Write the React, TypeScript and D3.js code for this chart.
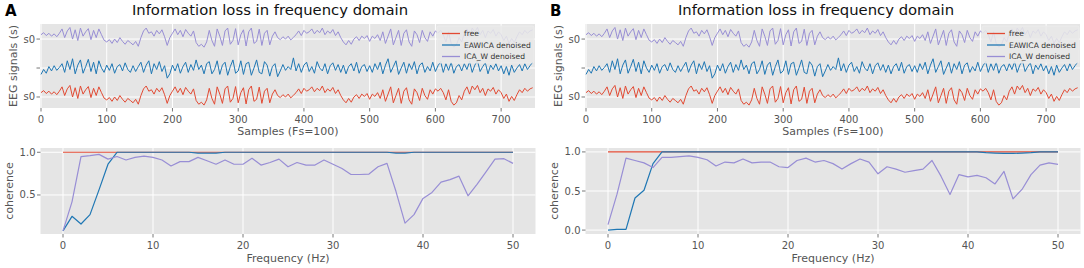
import React from "react";
import * as d3 from "d3";

// ---------- DATA ----------
const SAMPLE_STEP = 4; // samples between stored EEG points
const panelLabels = ["A", "B"];
const titleText = "Information loss in frequency domain";
const seriesNames = ["free", "EAWICA denoised", "ICA_W denoised"];
const seriesColors = ["#E24A33", "#1f77b4", "#988ED5"];
const sampleTicks = [0, 100, 200, 300, 400, 500, 600, 700];
const freqTicks = [0, 10, 20, 30, 40, 50];
const eegTickValues = [0, 100, 200];
const eegTickLabels = ["s0", "", "s0"];
const channelOffsets = [0, 100, 200];

// free (clean) EEG, relative to its channel baseline
const freeSignal = [
  15, 22, 12, 20, 10, 18, 8, 20,
  35, 5, 28, 40, 0, 32, -5, 38, 10, 25, 36, -2, 30, 5, 35, 15, -4,
  -10, -2, -15, 0, -12, 5, -8, -18, -5, -12, -20, -8, -25,
  5, 28, 38, 20,
  25, 10, 30, 18, 32, 8,
  -22, 5, 20,
  35, 15, 30, 8, 33, 20, 10, 28,
  -12, -25, -18, -28, -10,
  30, -5, -25, 35, 10, -22, 28, 38, -18, -5, 36, -20, 15, 32, -24, 25, 38, -15, -8, 34, -22, 20, 30, -20, 10, 25,
  5, -2, 8, 0, 10, -3, 6,
  15, 28, 12, 30, 20, 25,
  35, 18, 30, 22, 38, 15, 28, 20, 33, 12, 25,
  5, -10, -20, -5, -18, 0,
  8, -5, 10, 2, 12, -8,
  10, 2, 15, -5,
  25, -15, 10, 35, -20, 5, 30, -22, 20, 32, -10, -25, 28, 15, -12, 30, 5, -8, 25, 10,
  28, 20, 30, 15, -10, 25, -15,
  -28, -20, 5, -10,
  20, 35, 10, 38, 25, 40, 15, 30, 5, 28, 20, 33, 10, 25, 15,
  -5, 10, -15, 2, -12, 8,
  25, 15, 30, 20, 28, 32,
];

// EAWICA denoised EEG
const eawicaSignal = [
  -22, -5, -18, 5, -10, 8, -8, 2,
  15, -15, 25, -5, 32, -20, 10, 28, -18, 5, 30, -12, 20, -20, 25, 0, -15,
  10, -8, 15, -18, 5, 12, -10, 18, -5, -15, 8, -12, 5,
  20, -15, 10, 25, -20, 15, -5, 22, -12, 8,
  -35, -20, 10,
  -10, 15, -18, 5, 20, -15, 12, -8, 28, -5, 10, -20, 15,
  22, -20, -5, 25, -22, 10, 20, -25, 5, 28, -18, -10, 25, -22, 15, 20, -25, 0, 28, -15, -20, 22, 10, -28, 5, 15,
  -30, -10, 12, -8, 5, -5, 35,
  -10, 15, -15, 10, 20, -12, 5, -18, 22, 0, -10, 15, -20, 8, 18, -8, 12,
  -15, 10, -20, 5, 15, -10, 20, -18, 5, 12, -12, 8,
  -15, 15, -5, 20, -20, 10, 32, -15, 5, 25, -22, 0, 20, -18, 15, -5, 22, -20, 10, 18, -15, 5, -10, 20,
  -12, 8, 22, -15, 15, -8, 20, -18, 5, 12, -10,
  15, -5, 22, -15, 10, 25, -12, 5, 18, -20, 10, -5, 15, -10, 8,
  -20, 5, -25, 10, -15, 0,
  12, -10, 15, -5, 8, 20,
];

// ICA_W denoised trace is visually identical to the free trace
const icaSignal = freeSignal;

// coherence, frequencies 0..50 Hz
const freqs = [
  0, 1, 2, 3, 4, 5, 6, 7, 8, 9, 10, 11, 12, 13, 14, 15, 16, 17, 18, 19, 20, 21, 22, 23, 24, 25,
  26, 27, 28, 29, 30, 31, 32, 33, 34, 35, 36, 37, 38, 39, 40, 41, 42, 43, 44, 45, 46, 47, 48, 49, 50,
];
const cohFreeA = [
  1, 1, 1, 1, 1, 1, 1, 1, 1, 1, 1, 1, 1, 1, 1, 1, 1, 1, 1, 1, 1, 1, 1, 1, 1, 1,
  1, 1, 1, 1, 1, 1, 1, 1, 1, 1, 1, 1, 1, 1, 1, 1, 1, 1, 1, 1, 1, 1, 1, 1, 1,
];
const cohEawicaA = [
  0.08, 0.25, 0.16, 0.27, 0.56, 0.86, 1.0, 1, 1, 1, 1, 1, 1, 1, 1, 0.99, 0.99, 0.99, 1, 1, 1, 1, 1, 1, 1, 1,
  1, 1, 1, 1, 1, 1, 1, 1, 1, 1, 1, 0.99, 0.99, 1, 1, 1, 1, 1, 1, 1, 1, 1, 1, 1, 1,
];
const cohIcaA = [
  0.08, 0.42, 0.95, 0.96, 0.975, 0.92, 0.95, 0.91, 0.94, 0.955, 0.94, 0.91, 0.84, 0.89, 0.89, 0.94, 0.9, 0.86,
  0.91, 0.86, 0.86, 0.93, 0.85, 0.88, 0.92, 0.83, 0.88, 0.85, 0.85, 0.91, 0.86, 0.81, 0.74, 0.74, 0.745, 0.83,
  0.87, 0.54, 0.17, 0.27, 0.46, 0.53, 0.65, 0.68, 0.72, 0.49, 0.625, 0.77, 0.92, 0.925, 0.87,
];
const cohFreeB = [
  1, 1, 1, 1, 1, 1, 1, 1, 1, 1, 1, 1, 1, 1, 1, 1, 1, 1, 1, 1, 1, 1, 1, 1, 1, 1,
  1, 1, 1, 1, 1, 1, 1, 1, 1, 1, 1, 1, 1, 1, 1, 1, 1, 1, 1, 1, 1, 1, 1, 1, 1,
];
const cohEawicaB = [
  0.0, 0.01, 0.01, 0.41, 0.51, 0.85, 1.0, 1, 1, 1, 1, 1, 1, 1, 1, 1, 1, 1, 1, 1, 1, 1, 1, 1, 1, 1,
  1, 1, 1, 1, 1, 1, 1, 1, 1, 1, 1, 1, 1, 1, 1, 1, 0.99, 0.985, 0.98, 0.98, 0.985, 0.99, 1, 1, 1,
];
const cohIcaB = [
  0.07, 0.46, 0.92, 0.89, 0.86, 0.8, 0.93, 0.93, 0.94, 0.95, 0.93, 0.9, 0.82, 0.87, 0.86, 0.91, 0.86, 0.87,
  0.87, 0.81, 0.8, 0.89, 0.92, 0.87, 0.89, 0.85, 0.78, 0.85, 0.91, 0.87, 0.72, 0.81, 0.78, 0.74, 0.76, 0.78,
  0.89, 0.69, 0.455, 0.71, 0.68, 0.7, 0.67, 0.59, 0.75, 0.4, 0.52, 0.71, 0.83, 0.86, 0.84,
];
const cohTicksA = [0.5, 1.0];
const cohTicksB = [0.0, 0.5, 1.0];

// ---------- STYLE ----------
const FONT = "DejaVu Sans";
const BG = "#E5E5E5";
const TXT = "#555555";

type PanelProps = {
  ox: number;
  label: string;
  coh: number[][];
  cohDomain: [number, number];
  cohTicks: number[];
  titleX: number;
};

function Panel({ ox, label, coh, cohDomain, cohTicks, titleX }: PanelProps) {
  // top axes
  const tL = ox + 41, tR = ox + 535, tT = 24, tB = 108;
  const xs = d3.scaleLinear().domain([0, 750]).range([tL, tR - 1]);
  const ys = d3.scaleLinear().domain([-38, 252]).range([tB, tT]);
  const signals = [freeSignal, eawicaSignal, icaSignal];
  const sigLine = (arr: number[], off: number) =>
    d3.line<number>().x((_, i) => xs(i * SAMPLE_STEP)).y((v) => ys(v + off))(arr) || "";

  // bottom axes
  const bL = ox + 40.5, bR = ox + 535.5, bT = 148, bB = 234;
  const xf = d3.scaleLinear().domain([-2.5, 52.5]).range([bL, bR]);
  const yc = d3.scaleLinear().domain(cohDomain).range([bB, bT]);
  const cohLine = (arr: number[]) =>
    d3.line<number>().x((_, i) => xf(freqs[i])).y((v) => yc(v))(arr) || "";

  const legX = ox + 437, legY = 26;

  return (
    <g fontFamily={FONT}>
      <text x={ox + 5} y={16} fontSize={15} fontWeight="bold" fill="#000">{label}</text>
      <text x={titleX} y={15} fontSize={14.8} textAnchor="middle" fill="#111">{titleText}</text>

      {/* top axes */}
      <rect x={tL - 1} y={tT} width={tR - tL + 1} height={tB - tT} fill={BG} />
      {sampleTicks.map((t) => (
        <line key={"gx" + t} x1={xs(t)} x2={xs(t)} y1={tT} y2={tB} stroke="#fff" strokeWidth={1} />
      ))}
      {eegTickValues.map((t) => (
        <line key={"gy" + t} x1={tL - 1} x2={tR} y1={ys(t)} y2={ys(t)} stroke="#fff" strokeWidth={1} />
      ))}
      {signals.map((s, k) => (
        <path key={"s" + k} d={sigLine(s, channelOffsets[k])} fill="none" stroke={seriesColors[k]} strokeWidth={1} strokeLinejoin="round" />
      ))}
      {sampleTicks.map((t) => (
        <g key={"tx" + t}>
          <line x1={xs(t)} x2={xs(t)} y1={tB} y2={tB + 3.5} stroke={TXT} strokeWidth={0.8} />
          <text x={xs(t)} y={tB + 14.5} fontSize={10} textAnchor="middle" fill={TXT}>{t}</text>
        </g>
      ))}
      {eegTickValues.map((t, i) => (
        <g key={"ty" + t}>
          <line x1={tL - 4.5} x2={tL - 1} y1={ys(t)} y2={ys(t)} stroke={TXT} strokeWidth={0.8} />
          <text x={tL - 6} y={ys(t) + 3.5} fontSize={10} textAnchor="end" fill={TXT}>{eegTickLabels[i]}</text>
        </g>
      ))}
      <text x={(tL + tR) / 2} y={135} fontSize={11} textAnchor="middle" fill={TXT}>Samples (Fs=100)</text>
      <text transform={`translate(${ox + 16.5},${(tT + tB) / 2}) rotate(-90)`} fontSize={11} textAnchor="middle" fill={TXT}>EEG signals (s)</text>

      {/* legend */}
      <rect x={legX} y={legY} width={97} height={37} rx={2} fill="#E9E9E9" fillOpacity={0.85} stroke="#EDEDED" strokeWidth={0.8} />
      {seriesNames.map((n, k) => (
        <g key={"lg" + k}>
          <line x1={legX + 5} x2={legX + 23} y1={legY + 7.5 + k * 11.5} y2={legY + 7.5 + k * 11.5} stroke={seriesColors[k]} strokeWidth={1.3} />
          <text x={legX + 27} y={legY + 10.3 + k * 11.5} fontSize={7.6} fill="#333">{n}</text>
        </g>
      ))}

      {/* bottom axes */}
      <rect x={bL} y={bT} width={bR - bL} height={bB - bT} fill={BG} />
      {freqTicks.map((t) => (
        <line key={"fgx" + t} x1={xf(t)} x2={xf(t)} y1={bT} y2={bB} stroke="#fff" strokeWidth={1} />
      ))}
      {cohTicks.map((t) => (
        <line key={"fgy" + t} x1={bL} x2={bR} y1={yc(t)} y2={yc(t)} stroke="#fff" strokeWidth={1} />
      ))}
      {coh.map((c, k) => (
        <path key={"c" + k} d={cohLine(c)} fill="none" stroke={seriesColors[k]} strokeWidth={1.2} strokeLinejoin="round" />
      ))}
      {freqTicks.map((t) => (
        <g key={"ftx" + t}>
          <line x1={xf(t)} x2={xf(t)} y1={bB} y2={bB + 3.5} stroke={TXT} strokeWidth={0.8} />
          <text x={xf(t)} y={bB + 14.5} fontSize={10} textAnchor="middle" fill={TXT}>{t}</text>
        </g>
      ))}
      {cohTicks.map((t) => (
        <g key={"fty" + t}>
          <line x1={bL - 3.5} x2={bL} y1={yc(t)} y2={yc(t)} stroke={TXT} strokeWidth={0.8} />
          <text x={bL - 5} y={yc(t) + 3.5} fontSize={10} textAnchor="end" fill={TXT}>{t.toFixed(1)}</text>
        </g>
      ))}
      <text x={(bL + bR) / 2} y={262} fontSize={11} textAnchor="middle" fill={TXT}>Frequency (Hz)</text>
      <text transform={`translate(${ox + 13},${(bT + bB) / 2}) rotate(-90)`} fontSize={11} textAnchor="middle" fill={TXT}>coherence</text>
    </g>
  );
}

export default function App() {
  return (
    <svg width={1084} height={268} style={{ position: "absolute", left: 0, top: 0, background: "#fff" }}>
      <Panel ox={0} label={panelLabels[0]} coh={[cohFreeA, cohEawicaA, cohIcaA]} cohDomain={[0.043, 1.05]} cohTicks={cohTicksA} titleX={270} />
      <Panel ox={545} label={panelLabels[1]} coh={[cohFreeB, cohEawicaB, cohIcaB]} cohDomain={[-0.05, 1.05]} cohTicks={cohTicksB} titleX={816} />
    </svg>
  );
}
